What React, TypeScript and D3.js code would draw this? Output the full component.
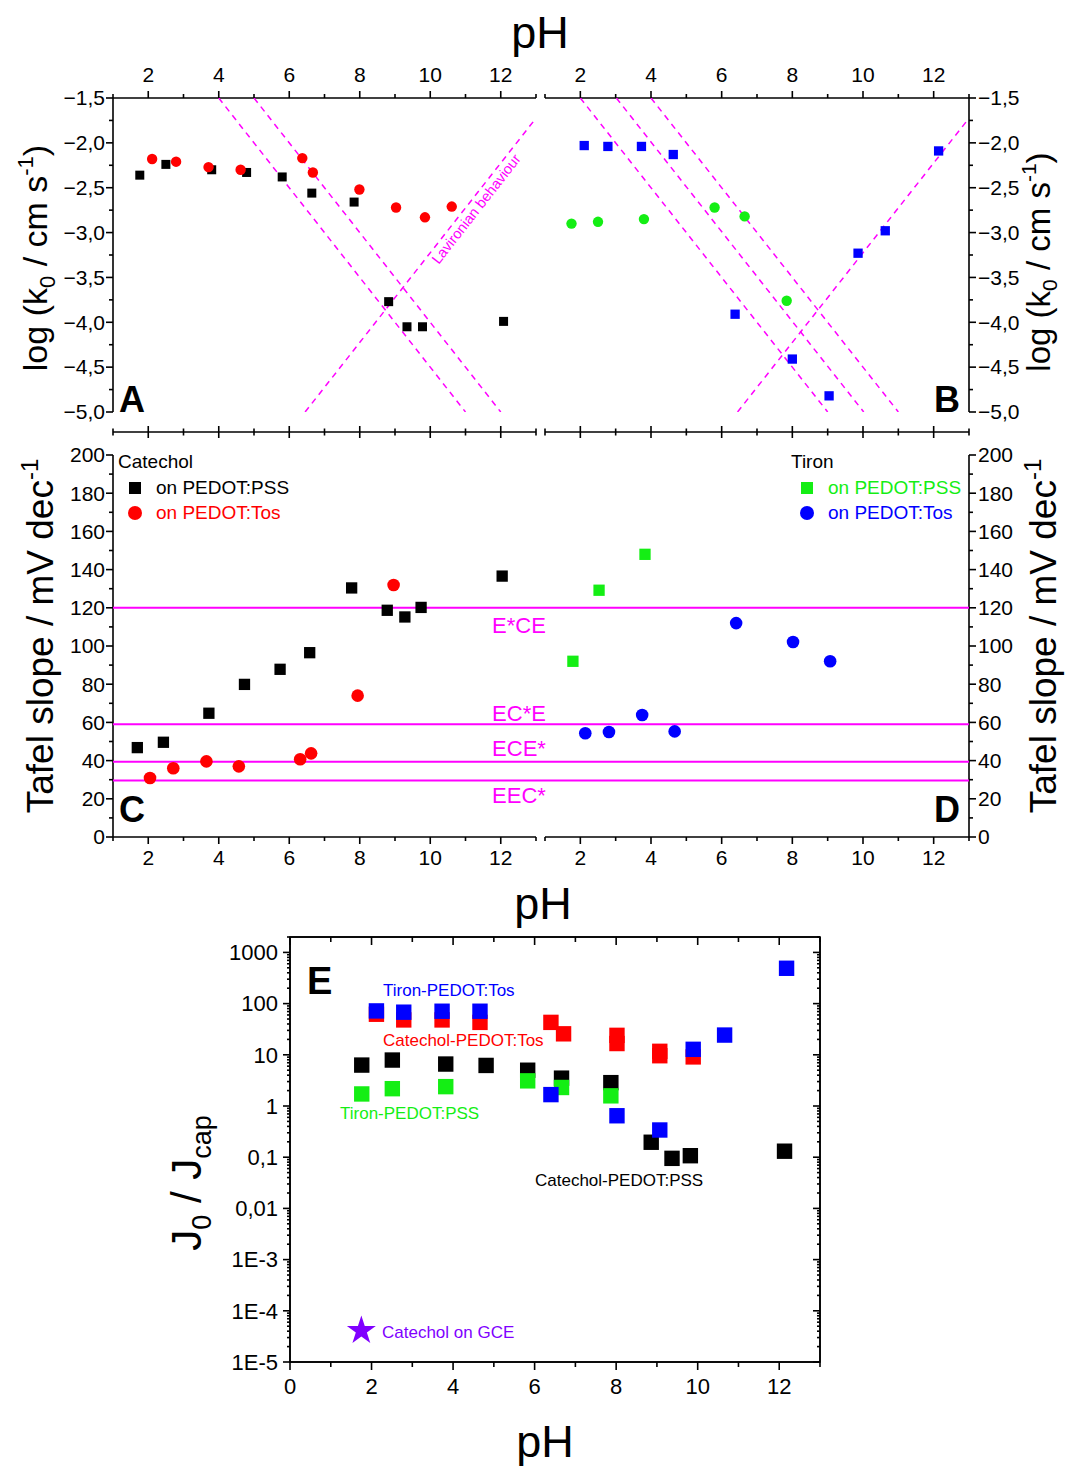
import React from "react";
import * as d3 from "d3";

const FONT = "'Liberation Sans', Arial, sans-serif";
const MAG = "#ff00ff";
const RED = "#ff0000";
const GREEN = "#14ee14";
const BLUE = "#0000ff";
const PURPLE = "#8000ff";

// ---- panel A : catechol, log k0 vs pH
const catPssA_pH = [1.76, 2.5, 3.8, 4.79, 5.8, 6.64, 7.84, 8.82, 9.34, 9.78, 12.08];
const catPssA_logk = [-2.36, -2.24, -2.3, -2.33, -2.38, -2.56, -2.66, -3.77, -4.05, -4.05, -3.99];
const catTosA_pH = [2.11, 2.79, 3.71, 4.62, 6.37, 6.67, 7.99, 9.03, 9.85, 10.61];
const catTosA_logk = [-2.18, -2.21, -2.27, -2.3, -2.17, -2.33, -2.52, -2.72, -2.83, -2.71];
// dashed guide lines [pH1, logk1, pH2, logk2]
const guidesA = [[4, -1.5, 11, -5], [5, -1.5, 12, -5], [6.45, -5, 13, -1.725]];

// ---- panel B : tiron, log k0 vs pH
const tirTosB_pH = [2.11, 2.78, 3.73, 4.63, 6.38, 8.0, 9.04, 9.86, 10.63, 12.14];
const tirTosB_logk = [-2.03, -2.04, -2.04, -2.13, -3.91, -4.41, -4.82, -3.23, -2.98, -2.09];
const tirPssB_pH = [1.75, 2.5, 3.8, 5.8, 6.65, 7.84];
const tirPssB_logk = [-2.9, -2.88, -2.85, -2.72, -2.82, -3.76];
const guidesB = [[2, -1.5, 9, -5], [3.02, -1.5, 10.02, -5], [4, -1.5, 11, -5], [6.45, -5, 13, -1.725]];

// ---- panel C : catechol, Tafel slope
const catPssC_pH = [1.69, 2.43, 3.72, 4.73, 5.74, 6.58, 7.77, 8.78, 9.28, 9.74, 12.04];
const catPssC_tafel = [46.8, 49.6, 64.8, 79.9, 87.8, 96.5, 130.4, 118.7, 115.2, 120.2, 136.6];
const catTosC_pH = [2.05, 2.71, 3.65, 4.57, 6.31, 6.62, 7.94, 8.96];
const catTosC_tafel = [30.9, 36, 39.6, 37, 40.7, 43.8, 74, 131.9];

// ---- panel D : tiron, Tafel slope
const tirPssD_pH = [1.79, 2.53, 3.83];
const tirPssD_tafel = [92, 129.2, 148];
const tirTosD_pH = [2.14, 2.81, 3.75, 4.67, 6.41, 8.02, 9.07];
const tirTosD_tafel = [54.3, 55, 63.9, 55.3, 112, 102.1, 92];

// mechanism reference lines
const mechValues = [120, 59, 39.4, 29.6];
const mechLabels = ["E*CE", "EC*E", "ECE*", "EEC*"];
const mechLabelDy = [17, -11, -13, 15];

// ---- panel E : J0 / Jcap
const catPssE_pH = [1.76, 2.51, 3.82, 4.81, 5.83, 6.66, 7.87, 8.86, 9.37, 9.82, 12.13];
const catPssE_ratio = [6.3, 7.9, 6.6, 6.2, 5.0, 3.5, 2.86, 0.196, 0.095, 0.107, 0.131];
const tirPssE_pH = [1.76, 2.51, 3.82, 5.83, 6.66, 7.87];
const tirPssE_ratio = [1.72, 2.18, 2.39, 3.1, 2.3, 1.58];
const catTosE_pH = [2.12, 2.79, 3.73, 4.66, 6.4, 6.71, 8.02, 8.02, 9.07, 9.07, 9.89];
const catTosE_ratio = [62, 48, 48, 43, 43, 25.7, 24, 16.6, 11.7, 9.6, 9.1];
const tirTosE_pH = [2.12, 2.79, 3.73, 4.66, 6.4, 8.02, 9.07, 9.89, 10.66, 12.18];
const tirTosE_ratio = [72, 68, 71, 71, 1.67, 0.645, 0.34, 12.8, 24.3, 490];
const gceE_pH = [1.75];
const gceE_ratio = [4.1e-5];

// ticks
const phMajor = [2, 4, 6, 8, 10, 12];
const phMinor = [1, 3, 5, 7, 9, 11, 13];
const logkMajor = [-5, -4.5, -4, -3.5, -3, -2.5, -2, -1.5];
const logkMinor = [-4.75, -4.25, -3.75, -3.25, -2.75, -2.25, -1.75];
const tafelMajor = [0, 20, 40, 60, 80, 100, 120, 140, 160, 180, 200];
const tafelMinor = [10, 30, 50, 70, 90, 110, 130, 150, 170, 190];
const ePhMajor = [0, 2, 4, 6, 8, 10, 12];
const ePhMinor = [1, 3, 5, 7, 9, 11, 13];
const ratioMajor = [1e-5, 1e-4, 1e-3, 0.01, 0.1, 1, 10, 100, 1000];
const ratioLabels = ["1E-5", "1E-4", "1E-3", "0,01", "0,1", "1", "10", "100", "1000"];

const fmtK = (v: number) => d3.format(".1f")(v).replace(".", ",").replace("-", "\u2212");

const Sq = ({ x, y, s, fill }: any) => <rect x={x - s / 2} y={y - s / 2} width={s} height={s} fill={fill} />;

export default function App() {
  const xA = d3.scaleLinear().domain([1, 13]).range([113, 536]);
  const xB = d3.scaleLinear().domain([1, 13]).range([545, 969]);
  const yK = d3.scaleLinear().domain([-5, -1.5]).range([412, 98]);
  const yT = d3.scaleLinear().domain([0, 200]).range([837, 455]);
  const xE = d3.scaleLinear().domain([0, 13]).range([290, 820]);
  const yE = d3.scaleLog().domain([1e-5, 2000]).range([1362, 937]);

  const ax = { stroke: "#000", strokeWidth: 1.6, fill: "none" } as any;
  const tickFont = 21;

  // horizontal axis with ticks: dir -1 up, 1 down, 0 both
  const hAxis = (key: string, sc: any, y: number, x0: number, x1: number, major: number[], minor: number[], dir: number, ml = 7, nl = 4) => {
    const seg = (v: number, len: number, i: number, t: string) => {
      const x = sc(v);
      const y1 = dir === 0 ? y - len : y;
      const y2 = dir === 0 ? y + len : y + dir * len;
      return <line key={key + t + i} x1={x} x2={x} y1={y1} y2={y2} {...ax} />;
    };
    return (
      <g key={key}>
        <line x1={x0} x2={x1} y1={y} y2={y} {...ax} />
        {major.map((v, i) => seg(v, ml, i, "M"))}
        {minor.map((v, i) => seg(v, nl, i, "m"))}
      </g>
    );
  };
  const vAxis = (key: string, sc: any, x: number, y0: number, y1: number, major: number[], minor: number[], dir: number, ml = 7, nl = 4) => {
    const seg = (v: number, len: number, i: number, t: string) => {
      const y = sc(v);
      return <line key={key + t + i} x1={x} x2={x + dir * len} y1={y} y2={y} {...ax} />;
    };
    return (
      <g key={key}>
        <line x1={x} x2={x} y1={y0} y2={y1} {...ax} />
        {major.map((v, i) => seg(v, ml, i, "M"))}
        {minor.map((v, i) => seg(v, nl, i, "m"))}
      </g>
    );
  };

  const eMinor: number[] = [];
  for (let d = -5; d <= 3; d++) for (let k = 2; k <= 9; k++) { const v = k * Math.pow(10, d); if (v <= 2000) eMinor.push(v); }

  const star = d3.symbol().type(d3.symbolStar).size(260)() as string;

  const guideStyle = { stroke: MAG, strokeWidth: 1.5, strokeDasharray: "6 5", fill: "none" };

  return (
    <svg width={1067} height={1468} style={{ position: "absolute", left: 0, top: 0, background: "#fff" }} fontFamily={FONT}>
      <defs>
        <clipPath id="clipA"><rect x={113} y={98} width={423} height={314} /></clipPath>
        <clipPath id="clipB"><rect x={545} y={98} width={424} height={314} /></clipPath>
      </defs>
      <rect width={1067} height={1468} fill="#fff" />

      {/* ===== top pH axis ===== */}
      <text x={540} y={48} fontSize={45} textAnchor="middle">pH</text>
      {hAxis("topA", xA, 98, 113, 536, phMajor, phMinor, -1)}
      {hAxis("topB", xB, 98, 545, 969, phMajor, phMinor, -1)}
      {phMajor.map(v => <text key={"tla" + v} x={xA(v)} y={82} fontSize={tickFont} textAnchor="middle">{v}</text>)}
      {phMajor.map(v => <text key={"tlb" + v} x={xB(v)} y={82} fontSize={tickFont} textAnchor="middle">{v}</text>)}

      {/* middle pH axes */}
      {hAxis("midA", xA, 432, 113, 536, phMajor, phMinor, 0, 6, 3.5)}
      {hAxis("midB", xB, 432, 545, 969, phMajor, phMinor, 0, 6, 3.5)}

      {/* ===== panel A/B y axes ===== */}
      {vAxis("lA", yK, 113, 98, 412, logkMajor, logkMinor, -1)}
      {vAxis("rB", yK, 969, 98, 412, logkMajor, logkMinor, 1)}
      {logkMajor.map(v => <text key={"lka" + v} x={105} y={yK(v)} dy="0.35em" fontSize={tickFont} textAnchor="end">{fmtK(v)}</text>)}
      {logkMajor.map(v => <text key={"lkb" + v} x={978} y={yK(v)} dy="0.35em" fontSize={tickFont} textAnchor="start">{fmtK(v)}</text>)}
      <text transform="translate(47,258) rotate(-90)" fontSize={34} textAnchor="middle">
        log (k<tspan fontSize={22} dy={8}>0</tspan><tspan dy={-8}> / cm s</tspan><tspan fontSize={22} dy={-14}>-1</tspan><tspan dy={14}>)</tspan>
      </text>
      <text transform="translate(1050,262) rotate(-90)" fontSize={33} textAnchor="middle">
        log (k<tspan fontSize={21} dy={7}>0</tspan><tspan dy={-7}> / cm s</tspan><tspan fontSize={21} dy={-14}>-1</tspan><tspan dy={14}>)</tspan>
      </text>

      {/* panel A guides */}
      <g clipPath="url(#clipA)">
        {guidesA.map((g, i) => <line key={"ga" + i} x1={xA(g[0])} y1={yK(g[1])} x2={xA(g[2])} y2={yK(g[3])} {...guideStyle} />)}
      </g>
      <text transform={`translate(${xA(11.3)},${yK(-2.58) + 14}) rotate(-52)`} fontSize={14.5} fill={MAG} textAnchor="middle" dy="0.35em">Lavironian behaviour</text>
      <g clipPath="url(#clipB)">
        {guidesB.map((g, i) => <line key={"gb" + i} x1={xB(g[0])} y1={yK(g[1])} x2={xB(g[2])} y2={yK(g[3])} {...guideStyle} />)}
      </g>

      {/* panel A data */}
      {catPssA_pH.map((p, i) => <Sq key={"a1" + i} x={xA(p)} y={yK(catPssA_logk[i])} s={9} fill="#000" />)}
      {catTosA_pH.map((p, i) => <circle key={"a2" + i} cx={xA(p)} cy={yK(catTosA_logk[i])} r={5.2} fill={RED} />)}
      {/* panel B data */}
      {tirTosB_pH.map((p, i) => <Sq key={"b1" + i} x={xB(p)} y={yK(tirTosB_logk[i])} s={9.3} fill={BLUE} />)}
      {tirPssB_pH.map((p, i) => <circle key={"b2" + i} cx={xB(p)} cy={yK(tirPssB_logk[i])} r={5.2} fill={GREEN} />)}

      <text x={119} y={412} fontSize={36} fontWeight="bold">A</text>
      <text x={934} y={412} fontSize={36} fontWeight="bold">B</text>

      {/* ===== panels C / D ===== */}
      {hAxis("botC", xA, 837, 113, 536, phMajor, phMinor, 1)}
      {hAxis("botD", xB, 837, 545, 969, phMajor, phMinor, 1)}
      {phMajor.map(v => <text key={"blc" + v} x={xA(v)} y={865} fontSize={tickFont} textAnchor="middle">{v}</text>)}
      {phMajor.map(v => <text key={"bld" + v} x={xB(v)} y={865} fontSize={tickFont} textAnchor="middle">{v}</text>)}
      <text x={543} y={919} fontSize={45} textAnchor="middle">pH</text>

      {vAxis("lC", yT, 113, 455, 837, tafelMajor, tafelMinor, -1)}
      {vAxis("rD", yT, 969, 455, 837, tafelMajor, tafelMinor, 1)}
      {tafelMajor.map(v => <text key={"tc" + v} x={105} y={yT(v)} dy="0.35em" fontSize={tickFont} textAnchor="end">{v}</text>)}
      {tafelMajor.map(v => <text key={"td" + v} x={978} y={yT(v)} dy="0.35em" fontSize={tickFont} textAnchor="start">{v}</text>)}
      <text transform="translate(53,636) rotate(-90)" fontSize={37} textAnchor="middle">
        Tafel slope / mV dec<tspan fontSize={24} dy={-15}>-1</tspan>
      </text>
      <text transform="translate(1056,636) rotate(-90)" fontSize={37} textAnchor="middle">
        Tafel slope / mV dec<tspan fontSize={24} dy={-15}>-1</tspan>
      </text>

      {mechValues.map((v, i) => (
        <g key={"mech" + i}>
          <line x1={113} x2={969} y1={yT(v)} y2={yT(v)} stroke={MAG} strokeWidth={2} />
          <text x={519} y={yT(v) + mechLabelDy[i]} dy="0.35em" fontSize={22} fill={MAG} textAnchor="middle">{mechLabels[i]}</text>
        </g>
      ))}

      {catPssC_pH.map((p, i) => <Sq key={"c1" + i} x={xA(p)} y={yT(catPssC_tafel[i])} s={11.3} fill="#000" />)}
      {catTosC_pH.map((p, i) => <circle key={"c2" + i} cx={xA(p)} cy={yT(catTosC_tafel[i])} r={6.3} fill={RED} />)}
      {tirPssD_pH.map((p, i) => <Sq key={"d1" + i} x={xB(p)} y={yT(tirPssD_tafel[i])} s={11.3} fill={GREEN} />)}
      {tirTosD_pH.map((p, i) => <circle key={"d2" + i} cx={xB(p)} cy={yT(tirTosD_tafel[i])} r={6.3} fill={BLUE} />)}

      {/* legends */}
      <text x={118} y={468} fontSize={19}>Catechol</text>
      <Sq x={135} y={488} s={12} fill="#000" />
      <text x={156} y={494} fontSize={19}>on PEDOT:PSS</text>
      <circle cx={135} cy={513} r={7} fill={RED} />
      <text x={156} y={519} fontSize={19} fill={RED}>on PEDOT:Tos</text>

      <text x={791} y={468} fontSize={19}>Tiron</text>
      <Sq x={807} y={488} s={12} fill={GREEN} />
      <text x={828} y={494} fontSize={19} fill={GREEN}>on PEDOT:PSS</text>
      <circle cx={807} cy={513} r={7} fill={BLUE} />
      <text x={828} y={519} fontSize={19} fill={BLUE}>on PEDOT:Tos</text>

      <text x={119} y={822} fontSize={36} fontWeight="bold">C</text>
      <text x={934} y={822} fontSize={36} fontWeight="bold">D</text>

      {/* ===== panel E ===== */}
      <rect x={290} y={937} width={530} height={425} fill="none" stroke="#000" strokeWidth={1.6} />
      {hAxis("eTop", xE, 937, 290, 820, ePhMajor, ePhMinor, 1, 8, 5)}
      {hAxis("eBot", xE, 1362, 290, 820, ePhMajor, ePhMinor, 1, 8, 5)}
      {vAxis("eL", yE, 290, 937, 1362, ratioMajor, eMinor, -1, 7, 3)}
      {vAxis("eR", yE, 820, 937, 1362, ratioMajor, eMinor, -1, 7, 3)}
      {ePhMajor.map(v => <text key={"ex" + v} x={xE(v)} y={1394} fontSize={22} textAnchor="middle">{v}</text>)}
      {ratioMajor.map((v, i) => <text key={"ey" + i} x={278} y={yE(v)} dy="0.35em" fontSize={22} textAnchor="end">{ratioLabels[i]}</text>)}
      <text x={545} y={1457} fontSize={45} textAnchor="middle">pH</text>
      <text transform="translate(201,1183) rotate(-90)" fontSize={42} textAnchor="middle">
        J<tspan fontSize={27} dy={10}>0</tspan><tspan dy={-10}> / J</tspan><tspan fontSize={27} dy={10}>cap</tspan>
      </text>

      {catPssE_pH.map((p, i) => <Sq key={"e1" + i} x={xE(p)} y={yE(catPssE_ratio[i])} s={15.4} fill="#000" />)}
      {tirPssE_pH.map((p, i) => <Sq key={"e2" + i} x={xE(p)} y={yE(tirPssE_ratio[i])} s={15.4} fill={GREEN} />)}
      {catTosE_pH.map((p, i) => <Sq key={"e3" + i} x={xE(p)} y={yE(catTosE_ratio[i])} s={15.4} fill={RED} />)}
      {tirTosE_pH.map((p, i) => <Sq key={"e4" + i} x={xE(p)} y={yE(tirTosE_ratio[i])} s={15.4} fill={BLUE} />)}
      {gceE_pH.map((p, i) => <path key={"e5" + i} d={star} transform={`translate(${xE(p)},${yE(gceE_ratio[i])})`} fill={PURPLE} />)}

      <text x={307} y={994} fontSize={38} fontWeight="bold">E</text>
      <text x={383} y={996} fontSize={17} fill={BLUE}>Tiron-PEDOT:Tos</text>
      <text x={383} y={1046} fontSize={17} fill={RED}>Catechol-PEDOT:Tos</text>
      <text x={340} y={1119} fontSize={17} fill={GREEN}>Tiron-PEDOT:PSS</text>
      <text x={535} y={1186} fontSize={17}>Catechol-PEDOT:PSS</text>
      <text x={382} y={1338} fontSize={17} fill={PURPLE}>Catechol on GCE</text>
    </svg>
  );
}
